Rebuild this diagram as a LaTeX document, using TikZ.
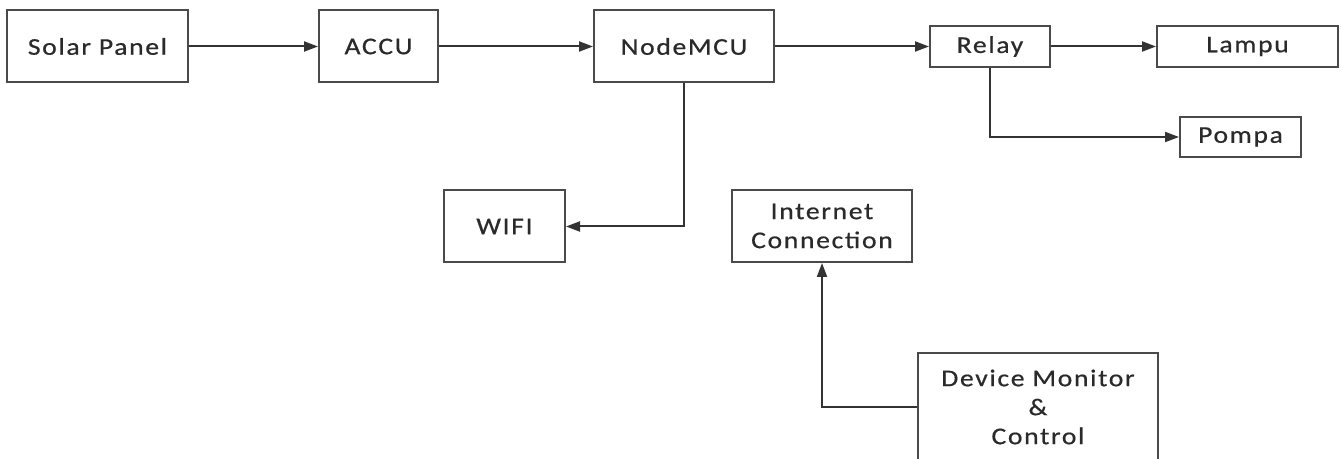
\documentclass[tikz,border=0pt]{standalone}
\usepackage{fontspec}
\setmainfont{Carlito}[FakeStretch=1.15,LetterSpace=7,FakeBold=0.6]
\usetikzlibrary{arrows.meta}
\definecolor{boxc}{HTML}{4A4A4A}
\definecolor{linec}{HTML}{333333}
\definecolor{txtc}{HTML}{2A2A2A}
\tikzset{
  blk/.style={draw=boxc, line width=1.5pt, fill=white, inner sep=0pt,
    align=center, text=txtc, font=\fontsize{18}{21.75}\selectfont},
  sz/.style 2 args={minimum width=#1*0.75pt, minimum height=#2*0.75pt},
  conn/.style={draw=linec, line width=1.5pt, -{Triangle[length=10.5pt,width=7.5pt]}}
}
\begin{document}
\begin{tikzpicture}[x=0.75pt,y=-0.75pt]
\useasboundingbox (0,0) rectangle (1341,459);
\clip (0,0) rectangle (1341,459);
\node[blk, sz={181}{72}] (solar) at (97.5,46.5) {Solar Panel};
\node[blk, sz={119}{72}] (accu) at (378.5,46.5) {ACCU};
\node[blk, sz={180}{72}] (mcu) at (684,46.5) {NodeMCU};
\node[blk, sz={120}{41}] (relay) at (990,46.5) {Relay};
\node[blk, sz={181}{41}] (lampu) at (1247.5,46.5) {Lampu};
\node[blk, sz={121}{40}] (pompa) at (1240.5,137) {Pompa};
\node[blk, sz={121}{72}] (wifi) at (504.5,226.5) {WIFI};
\node[blk, sz={180}{72}] (inet) at (822,226) {Internet\\Connection};
\node[blk, sz={240}{108}] (dev) at (1038,407) {Device Monitor\\\&\\Control};
\draw[conn] (solar.east) -- (accu.west);
\draw[conn] (accu.east) -- (mcu.west);
\draw[conn] (mcu.east) -- (relay.west);
\draw[conn] (relay.east) -- (lampu.west);
\draw[conn] (relay.south) |- (pompa.west);
\draw[conn] (mcu.south) |- (wifi.east);
\draw[conn] (dev.west) -| (inet.south);
\end{tikzpicture}
\end{document}
